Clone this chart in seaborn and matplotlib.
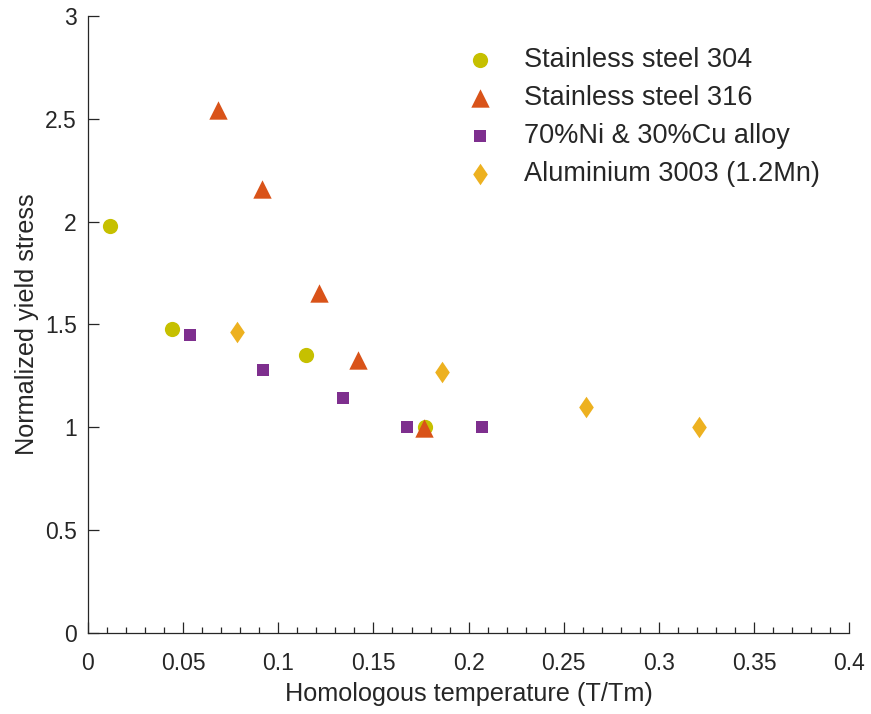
import numpy as np
import pandas as pd
import matplotlib
matplotlib.use("Agg")
import matplotlib.pyplot as plt
import seaborn as sns
from matplotlib.ticker import MultipleLocator

# ---- data ----
labels = ["Stainless steel 304", "Stainless steel 316",
          "70%Ni & 30%Cu alloy", "Aluminium 3003 (1.2Mn)"]

ss304_x = [0.0116, 0.0443, 0.1147, 0.1771]
ss304_y = [1.98, 1.48, 1.35, 1.00]

ss316_x = [0.0685, 0.0913, 0.1213, 0.1419, 0.1765]
ss316_y = [2.545, 2.16, 1.654, 1.326, 0.995]

nicu_x = [0.0535, 0.0922, 0.1342, 0.1675, 0.2071]
nicu_y = [1.449, 1.28, 1.141, 1.0, 1.0]

al_x = [0.0783, 0.1862, 0.2618, 0.3210]
al_y = [1.463, 1.267, 1.097, 1.0]

xticks = [0, 0.05, 0.1, 0.15, 0.2, 0.25, 0.3, 0.35, 0.4]
xticklabels = ["0", "0.05", "0.1", "0.15", "0.2", "0.25", "0.3", "0.35", "0.4"]
yticks = [0, 0.5, 1, 1.5, 2, 2.5, 3]
yticklabels = ["0", "0.5", "1", "1.5", "2", "2.5", "3"]

colors = ["#c6c000", "#d95319", "#7e2f8e", "#edb120"]

df = pd.concat([
    pd.DataFrame({"x": ss304_x, "y": ss304_y, "material": labels[0]}),
    pd.DataFrame({"x": ss316_x, "y": ss316_y, "material": labels[1]}),
    pd.DataFrame({"x": nicu_x, "y": nicu_y, "material": labels[2]}),
    pd.DataFrame({"x": al_x, "y": al_y, "material": labels[3]}),
], ignore_index=True)

sns.set_theme(style="ticks")
plt.rcParams["font.family"] = ["Liberation Sans", "DejaVu Sans"]
plt.rcParams["axes.edgecolor"] = "#262626"
plt.rcParams["xtick.color"] = "#262626"
plt.rcParams["ytick.color"] = "#262626"

fig = plt.figure(figsize=(8.71, 7.14), dpi=100)
ax = fig.add_axes([0.101, 0.1134, 0.874, 0.8643])

thin_diamond = [(0, 1), (0.68, 0), (0, -1), (-0.68, 0), (0, 1)]
markers = {labels[0]: "o", labels[1]: "^", labels[2]: "s", labels[3]: thin_diamond}
palette = dict(zip(labels, colors))

sizes_map = {labels[0]: 120, labels[1]: 175, labels[2]: 85, labels[3]: 240}
for lab in labels:
    sub = df[df["material"] == lab]
    sns.scatterplot(data=sub, x="x", y="y", color=palette[lab], marker=markers[lab],
                    s=sizes_map[lab], linewidth=0, ax=ax, label=lab, zorder=3)

ax.set_xlim(0, 0.4)
ax.set_ylim(0, 3)
ax.set_xticks(xticks)
ax.set_xticklabels(xticklabels)
ax.set_yticks(yticks)
ax.set_yticklabels(yticklabels)
ax.xaxis.set_minor_locator(MultipleLocator(0.01))
ax.tick_params(axis="both", which="major", direction="in", length=8, width=0.9,
               labelsize=16.5, colors="#262626")
ax.tick_params(axis="x", which="major", pad=14)
ax.tick_params(axis="y", which="major", pad=8)
ax.tick_params(axis="x", which="minor", direction="in", length=4, width=0.9, colors="#262626")
for s in ["top", "right"]:
    ax.spines[s].set_visible(False)
for s in ["left", "bottom"]:
    ax.spines[s].set_linewidth(0.9)

ax.set_xlabel("Homologous temperature (T/Tm)", fontsize=18.2, color="#262626", labelpad=5)
ax.set_ylabel("Normalized yield stress", fontsize=18.2, color="#262626", labelpad=4)

leg = ax.legend(loc="upper left", bbox_to_anchor=(0.497, 0.950), frameon=False,
                fontsize=19.5, handlelength=1.0, handletextpad=1.13,
                labelspacing=0.45, borderaxespad=0, borderpad=0)
for h in leg.legend_handles:
    h.set_linewidth(0)

fig.savefig("out.png", dpi=100)
